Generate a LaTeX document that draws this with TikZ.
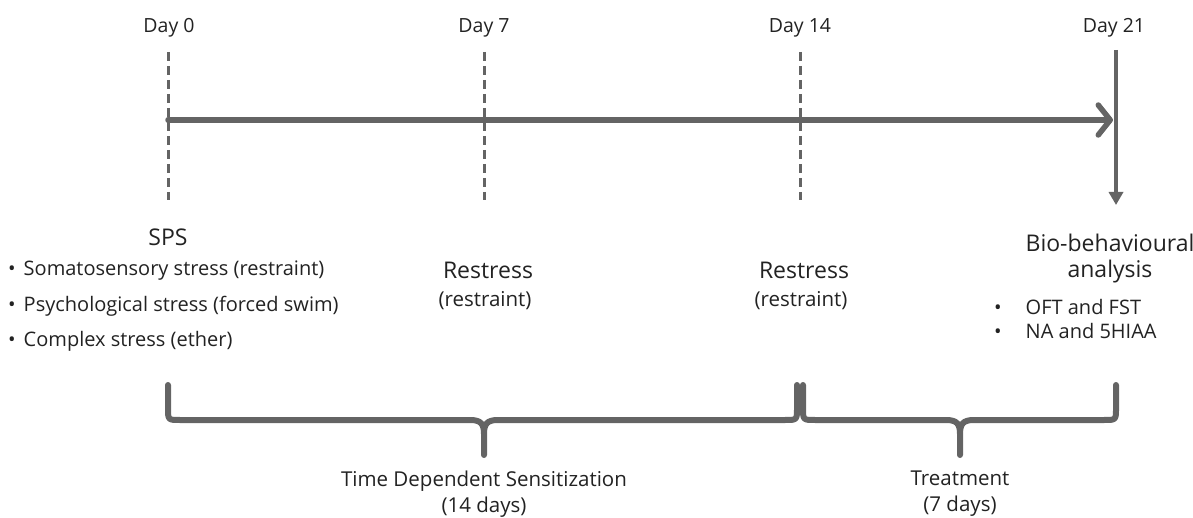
\documentclass[tikz,border=0pt]{standalone}
\usepackage{fontspec}
\setmainfont{Open Sans}
\usetikzlibrary{arrows.meta}
\definecolor{linegray}{HTML}{646464}
\definecolor{txt}{HTML}{222222}
\tikzset{
  daylbl/.style={text=txt, font=\fontsize{19.5}{22}\selectfont, inner sep=0},
  head/.style={text=txt, font=\fontsize{23}{26}\selectfont, inner sep=0, align=center},
  sub/.style={text=txt, font=\fontsize{20.5}{26}\selectfont, inner sep=0, align=center},
  item/.style={text=txt, font=\fontsize{20}{22}\selectfont, inner sep=0, anchor=west},
  dashline/.style={draw=linegray, line width=3, dash pattern=on 9 off 5},
  timeline/.style={draw=linegray, line width=5.5, line cap=round, -{Straight Barb[length=12,width=30,line width=5.5,round]}},
  bracepath/.style={draw=linegray, line width=6, line cap=round, line join=round},
}
\begin{document}
\begin{tikzpicture}[x=1pt,y=-1pt]
\useasboundingbox (0,0) rectangle (1193,518);
% day labels
\node[daylbl] (d0) at (169,28) {Day 0};
\node[daylbl] (d7) at (484,28) {Day 7};
\node[daylbl] (d14) at (800,28) {Day 14};
\node[daylbl] (d21) at (1114,28) {Day 21};
% coordinates
\coordinate (t0) at (168,52); \coordinate (b0) at (168,200);
\coordinate (t7) at (484,52); \coordinate (b7) at (484,200);
\coordinate (t14) at (800,52); \coordinate (b14) at (800,200);
\coordinate (t21) at (1116,50); \coordinate (b21) at (1116,205);
\coordinate (a0) at (168,120); \coordinate (a21) at (1113,120);
% dashed lines
\draw[dashline] (t0) -- (b0);
\draw[dashline] (t7) -- (b7);
\draw[dashline] (t14) -- (b14);
\draw[draw=linegray, line width=3.5, -{Triangle[length=13,width=14]}] (t21) -- (b21);
% timeline
\draw[timeline] (a0) -- (a21);
% texts
\node[head] (sps) at (168,237) {SPS};
\node[item] (i1) at (8,271) {\textbullet\hspace{8pt}Somatosensory stress (restraint)};
\node[item] (i2) at (8,306) {\textbullet\hspace{8pt}Psychological stress (forced swim)};
\node[item] (i3) at (8,341) {\textbullet\hspace{8pt}Complex stress (ether)};
\node[head] (r7) at (488,270) {Restress};
\node[sub] (r7b) at (485,301) {(restraint)};
\node[head] (r14) at (804,270) {Restress};
\node[sub] (r14b) at (801,301) {(restraint)};
\node[head] (bio) at (1110,259) {Bio-behavioural\\analysis};
\node[item] (o1) at (994,307) {\textbullet\hspace{24pt}OFT and FST};
\node[item] (o2) at (994,331) {\textbullet\hspace{24pt}NA and 5HIAA};
% braces
\draw[bracepath] (168,385) -- (168,408) .. controls (168,420) .. (180,420) -- (470,420)
  .. controls (481,420) and (484,424) .. (484,434) -- (484,455) -- (484,434)
  .. controls (484,424) and (487,420) .. (498,420) -- (785,420)
  .. controls (797,420) .. (797,408) -- (797,385);
\draw[bracepath] (803,385) -- (803,408) .. controls (803,420) .. (815,420) -- (946,420)
  .. controls (957,420) and (960,424) .. (960,434) -- (960,455) -- (960,434)
  .. controls (960,424) and (963,420) .. (974,420) -- (1104,420)
  .. controls (1116,420) .. (1116,408) -- (1116,385);
\node[sub] (tds) at (484,494) {Time Dependent Sensitization\\(14 days)};
\node[sub] (trt) at (960,494) {Treatment\\(7 days)};
\end{tikzpicture}
\end{document}
